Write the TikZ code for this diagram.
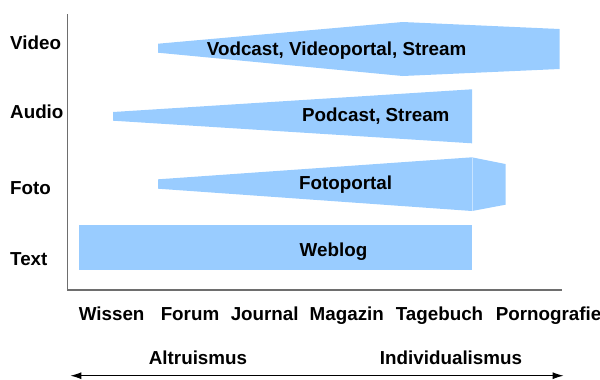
\documentclass[tikz,border=0pt]{standalone}
\usepackage{fontspec}
\setmainfont{Liberation Sans}
\usetikzlibrary{arrows.meta}
\definecolor{bandblue}{RGB}{153,204,255}
\definecolor{axisgray}{RGB}{110,110,110}
\begin{document}
\begin{tikzpicture}[x=1bp,y=-1bp,
  lbl/.style={font=\fontsize{18.8bp}{21bp}\selectfont\bfseries, inner sep=0pt, text=black, anchor=base},
  band/.style={fill=bandblue, draw=none},
  axisline/.style={draw=axisgray, line width=1.2bp}]
\useasboundingbox (0,0) rectangle (600,379);
% axes
\draw[axisline] (67.6,14) -- (67.6,290) -- (562,290);
% bands
\path[band] (158,43.7) -- (402.7,22) -- (559.5,29) -- (559.5,69) -- (402.7,76) -- (158,52.7) -- cycle;
\path[band] (113,112) -- (472,89.3) -- (472,143.3) -- (113,120.7) -- cycle;
\path[band] (158,179.3) -- (472,157.3) -- (505.5,164) -- (505.5,204.7) -- (472,211) -- (158,188.7) -- cycle;
\draw[bandblue!55!white, line width=0.4bp] (472,157.3) -- (472,211);
\path[band] (79,225) rectangle (472,270);
% band labels
\node[lbl] (vod) at (336.6,55) {Vodcast, Videoportal, Stream};
\node[lbl] (pod) at (375.8,121.7) {Podcast, Stream};
\node[lbl] (foto) at (345.6,189.3) {Fotoportal};
\node[lbl] (web) at (333.5,256.7) {Weblog};
% row labels
\node[lbl, anchor=base west] (lvideo) at (10,49.5) {Video};
\node[lbl, anchor=base west] (laudio) at (10,118.5) {Audio};
\node[lbl, anchor=base west] (lfoto) at (10,194) {Foto};
\node[lbl, anchor=base west] (ltext) at (10,265) {Text};
% column labels
\node[lbl] (wissen) at (111.6,320) {Wissen};
\node[lbl] (forum) at (190,320) {Forum};
\node[lbl] (journal) at (264.7,320) {Journal};
\node[lbl] (magazin) at (346.8,320) {Magazin};
\node[lbl] (tagebuch) at (439.5,320) {Tagebuch};
\node[lbl] (porno) at (548.6,320) {Pornografie};
% bottom axis
\node[lbl] (altru) at (198,364) {Altruismus};
\node[lbl] (indiv) at (451,364) {Individualismus};
\coordinate (aL) at (70.4,375.7);
\coordinate (aR) at (563.6,375.7);
\draw[line width=1bp, {Latex[length=11bp,width=7bp]}-{Latex[length=11bp,width=7bp]}] (aL) -- (aR);
\end{tikzpicture}
\end{document}
